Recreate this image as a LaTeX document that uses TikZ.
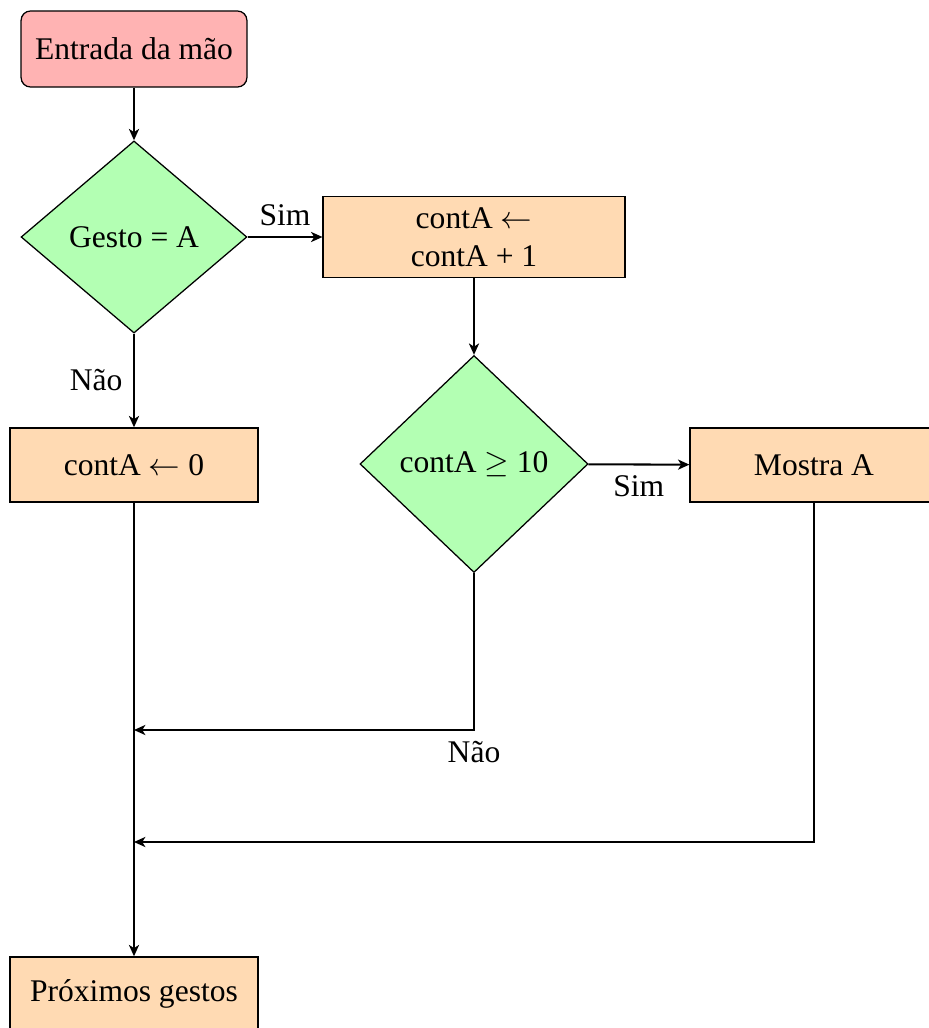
\documentclass[tikz,border=0pt]{standalone}
\usepackage{fontspec}
\setmainfont{Liberation Serif}
\usetikzlibrary{shapes.geometric,arrows.meta}
\definecolor{startred}{RGB}{255,179,179}
\definecolor{decgreen}{RGB}{179,255,179}
\definecolor{procorange}{RGB}{255,218,179}
\begin{document}
\begin{tikzpicture}[x=0.317pt,y=-0.317pt,
  startbox/.style={rectangle,rounded corners=3pt,draw,fill=startred,
    minimum width=71.6pt,minimum height=24.1pt,inner sep=0pt},
  procbox/.style={rectangle,draw,fill=procorange,
    minimum width=78.6pt,minimum height=23.5pt,inner sep=0pt,align=center},
  decision/.style={diamond,draw,fill=decgreen,inner sep=0pt},
  flow/.style={-{Stealth[length=3.6pt,width=3.2pt,inset=1pt]},line width=0.65pt},
  every node/.style={font=\fontsize{10pt}{12pt}\selectfont}]
\useasboundingbox (0,0) rectangle (929,1028);
\clip (0,0) rectangle (929,1028);

% nodes
\node[startbox] (start) at (134,49) {Entrada da mão};
\node[decision,minimum width=71.6pt,minimum height=60.9pt] (gesto) at (134,237) {Gesto = A};
\node[procbox,minimum width=95.7pt,minimum height=25.7pt] (inc) at (474,237) {contA $\leftarrow$\\contA + 1};
\node[decision,minimum width=72.3pt,minimum height=68.8pt] (teste) at (474,464) {contA $\geq$ 10};
\node[procbox] (zera) at (134,465) {contA $\leftarrow$ 0};
\node[procbox] (mostra) at (814,465) {Mostra A};
\node[procbox] (prox) at (134,994) {Próximos gestos};

% junction points on the main trunk
\coordinate (j1) at (134,730);
\coordinate (j2) at (134,842);

% connectors
\draw[flow] (start) -- (gesto);
\draw[flow] (gesto) -- node[above,pos=0.5] {Sim} (inc);
\draw[flow] (gesto) -- node[left,pos=0.5] {Não} (zera);
\draw[flow] (inc) -- (teste);
\draw[flow] (teste) -- node[below,pos=0.5] {Sim} (mostra);
\draw[flow] (zera) -- (prox);
\draw[flow] (teste.south) |- node[below,pos=0.5] {Não} (j1);
\draw[flow] (mostra.south) |- (j2);
\end{tikzpicture}
\end{document}
